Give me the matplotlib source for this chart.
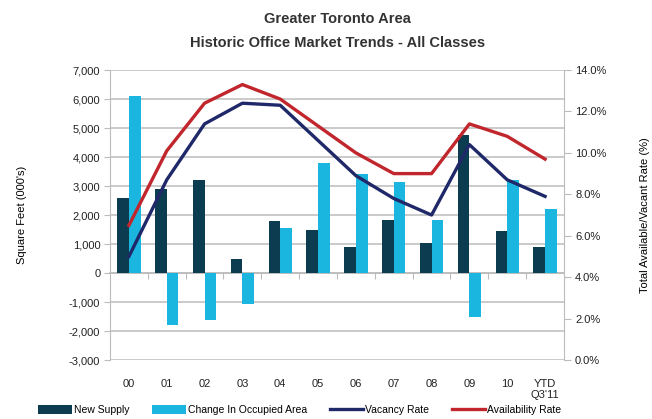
import matplotlib
matplotlib.use("Agg")
import matplotlib.pyplot as plt
import numpy as np

plt.rcParams['font.family'] = ['Liberation Sans Narrow', 'Liberation Sans', 'DejaVu Sans']

years = ["00", "01", "02", "03", "04", "05", "06", "07", "08", "09", "10", "YTD\nQ3'11"]
new_supply = [2600, 2900, 3220, 500, 1780, 1500, 890, 1820, 1050, 4770, 1450, 890]      # 000's sq ft
occupied_change = [6100, -1800, -1610, -1080, 1560, 3800, 3430, 3130, 1820, -1530, 3200, 2200]
vacancy_rate = [5.0, 8.7, 11.4, 12.4, 12.3, 10.6, 8.9, 7.8, 7.0, 10.4, 8.7, 7.9]        # %
availability_rate = [6.5, 10.1, 12.4, 13.3, 12.6, 11.3, 10.0, 9.0, 9.0, 11.4, 10.8, 9.7]

DARK = "#0c3c50"
CYAN = "#1bb6e0"
NAVY = "#1f2868"
RED = "#c0262c"
GRID = "#bcbcbc"

fig = plt.figure(figsize=(6.52, 4.19), dpi=100)
ax = fig.add_axes([0.1687, 0.1408, 0.6963, 0.692])
x = np.arange(len(years))
w = 0.31

ax.bar(x - w/2, new_supply, w, color=DARK, label="New Supply", zorder=3)
ax.bar(x + w/2, occupied_change, w, color=CYAN, label="Change In Occupied Area", zorder=3)
ax.set_ylim(-3000, 7000)
ax.set_xlim(-0.5, len(years) - 0.5)
ax.set_yticks(range(-3000, 7001, 1000))
ax.set_yticklabels([f"{v:,}" for v in range(-3000, 7001, 1000)], fontsize=8, color="#222222")
ax.yaxis.grid(True, color=GRID, lw=1.1, zorder=0)
ax.tick_params(axis='y', length=4, color=GRID, pad=3)
ax.set_xticks(x)
ax.set_xticklabels(years, fontsize=8, linespacing=1.1, va='top', color="#222222")
ax.tick_params(axis='x', length=0, pad=14)
for s in ['top', 'right', 'bottom']:
    ax.spines[s].set_visible(False)
ax.spines['left'].set_color(GRID)
ax.set_ylabel("Square Feet (000's)", fontsize=8, labelpad=30)

# category-boundary ticks along the zero line
zx = ax.secondary_xaxis(0.3)
zx.set_xticks(np.arange(0.5, len(years) - 1, 1))
zx.set_xticklabels([])
zx.tick_params(length=4, color=GRID)
zx.spines['bottom'].set_color(GRID)
zx.spines['bottom'].set_linewidth(1.2)

ax2 = ax.twinx()
ax2.plot(x, vacancy_rate, color=NAVY, lw=2.4, label="Vacancy Rate", zorder=4)
ax2.plot(x, availability_rate, color=RED, lw=2.4, label="Availability Rate", zorder=4)
ax2.set_ylim(0, 14)
ax2.set_yticks(np.arange(0, 14.1, 2))
ax2.set_yticklabels([f"{v:.1f}%" for v in np.arange(0, 14.1, 2)], fontsize=8, color="#222222")
ax2.tick_params(axis='y', length=5, color=GRID, pad=3)
for s in ['top', 'left', 'bottom']:
    ax2.spines[s].set_visible(False)
ax2.spines['right'].set_color(GRID)
ax2.set_ylabel("Total Available/Vacant Rate (%)", fontsize=8, labelpad=24)

fig.text(0.518, 0.955, "Greater Toronto Area", ha='center', va='center',
         fontsize=10.5, fontweight='bold', color="#333333")
fig.text(0.518, 0.898, "Historic Office Market Trends - All Classes", ha='center', va='center',
         fontsize=10.5, fontweight='bold', color="#333333")

h1, l1 = ax.get_legend_handles_labels()
h2, l2 = ax2.get_legend_handles_labels()
fig.legend(h1 + h2, l1 + l2, loc='center', bbox_to_anchor=(0.46, 0.022), ncol=4,
           frameon=False, fontsize=7.5, handlelength=3.2, handleheight=0.9,
           handletextpad=0.2, columnspacing=2.2)

fig.savefig("out.png", dpi=100)
